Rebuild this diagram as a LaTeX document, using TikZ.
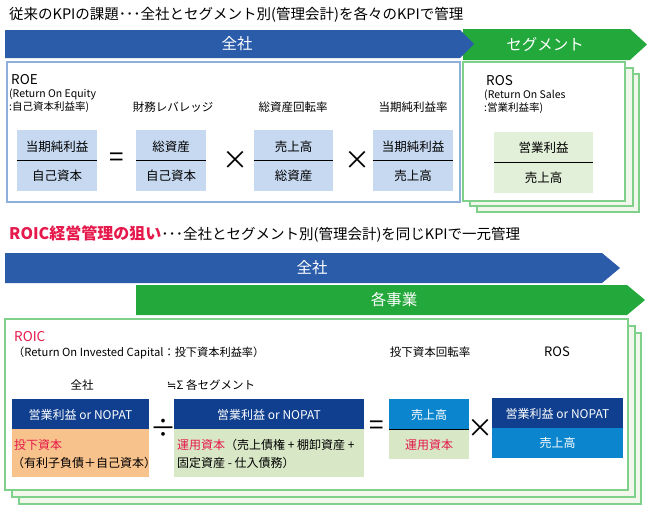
\documentclass[tikz,border=0pt]{standalone}
\usepackage{fontspec}
\setmainfont{Noto Sans CJK JP}
\newfontfamily\symfont{DejaVu Sans}
\definecolor{barblue}{HTML}{2A5CAA}
\definecolor{bargreen}{HTML}{23A93B}
\definecolor{edgeblue}{HTML}{8DAFDA}
\definecolor{edgegreen}{HTML}{7ED08A}
\definecolor{backgreen}{HTML}{F1F7EA}
\definecolor{fracblue}{HTML}{C6D9F0}
\definecolor{fracgreen}{HTML}{E2EFD9}
\definecolor{navy}{HTML}{0F3F8E}
\definecolor{midblue}{HTML}{0A85CE}
\definecolor{capgreen}{HTML}{D8E7C6}
\definecolor{caporange}{HTML}{F8C28C}
\definecolor{roicred}{HTML}{E5194B}

\begin{document}
\begin{tikzpicture}[x=1pt,y=-1pt,
    title/.style={anchor=west,font=\fontsize{14.5}{16}\selectfont},
    bartext/.style={text=white,font=\fontsize{15.5}{17}\selectfont},
    kpi/.style={anchor=west,font=\fontsize{13.5}{15}\selectfont},
    small/.style={anchor=west,font=\fontsize{10.5}{12}\selectfont},
    label/.style={font=\fontsize{11.5}{13}\selectfont},
    frac/.style={font=\fontsize{12.5}{14}\selectfont},
    boxtext/.style={font=\fontsize{12}{14}\selectfont},
    sign/.style={font=\fontsize{26}{28}\selectfont},
    stack/.style={draw=edgegreen,fill=backgreen,line width=1.2pt}]
    \tikzstyle{every node}+=[inner sep=0pt]
    \useasboundingbox (0,0) rectangle (650,520);
    \node [title] (head1) at (9,15) {従来のKPIの課題･･･全社とセグメント別(管理会計)を各々のKPIで管理};
    \fill [bargreen] (463,29) -- (630,29) -- (647,44.5) -- (630,60) -- (463,60) -- cycle;
    \fill [barblue] (5,30) -- (460,30) -- (474,44) -- (460,58) -- (5,58) -- cycle;
    \node [bartext] (all1) at (237,44) {全社};
    \node [bartext] (seg1) at (545,44.5) {セグメント};
    \draw [edgeblue,line width=1.2pt] (7,62) rectangle (460,202);
    \draw [stack] (477,74) rectangle (639,212);
    \draw [stack] (470,68) rectangle (633,206);
    \draw [stack,fill=white] (463,62) rectangle (625,201);
    \node [kpi] (roe) at (11,80) {ROE};
    \node [small] (roe1) at (9,94) {(Return On Equity};
    \node [small] (roe2) at (9,107) {:自己資本利益率)};
    \node [label] (lev) at (173,107) {財務レバレッジ};
    \node [label] (turn) at (293,107) {総資産回転率};
    \node [label] (margin) at (413,107) {当期純利益率};
    \node [fill=fracblue,minimum width=80pt,minimum height=61pt] (f1) at (57,160.5) {};
    \node [fill=fracblue,minimum width=70pt,minimum height=61pt] (f2) at (171,160.5) {};
    \node [fill=fracblue,minimum width=79pt,minimum height=61pt] (f3) at (293.5,160.5) {};
    \node [fill=fracblue,minimum width=80pt,minimum height=61pt] (f4) at (413,160.5) {};
    \draw (f1.west) -- (f1.east);
    \draw (f2.west) -- (f2.east);
    \draw (f3.west) -- (f3.east);
    \draw (f4.west) -- (f4.east);
    \node [frac] (f1t) at (57,147) {当期純利益};
    \node [frac] (f1b) at (57,176) {自己資本};
    \node [frac] (f2t) at (171,147) {総資産};
    \node [frac] (f2b) at (171,176) {自己資本};
    \node [frac] (f3t) at (293.5,147) {売上高};
    \node [frac] (f3b) at (293.5,176) {総資産};
    \node [frac] (f4t) at (413,147) {当期純利益};
    \node [frac] (f4b) at (413,176) {売上高};
    \node [sign] (eq1) at (117,160) {=};
    \node [sign] (times1) at (235,160) {×};
    \node [sign] (times2) at (357,160) {×};
    \node [kpi] (ros) at (486,81) {ROS};
    \node [small] (ros1) at (484,95) {(Return On Sales};
    \node [small] (ros2) at (484,108) {:営業利益率)};
    \node [fill=fracgreen,minimum width=99pt,minimum height=61pt] (f5) at (543.5,162.5) {};
    \draw (f5.west) -- (f5.east);
    \node [frac] (f5t) at (543.5,148) {営業利益};
    \node [frac] (f5b) at (543.5,178) {売上高};
    \node [title] (head2) at (9,234) {\textcolor{roicred}{\bfseries\fontsize{16}{18}\selectfont ROIC経営管理の狙い}･･･全社とセグメント別(管理会計)を同じKPIで一元管理};
    \fill [bargreen] (136,285) -- (627,285) -- (645,300) -- (627,315) -- (136,315) -- cycle;
    \fill [barblue] (5,253) -- (602,253) -- (620,268) -- (602,283) -- (5,283) -- cycle;
    \node [bartext] (all2) at (312,268) {全社};
    \node [bartext] (seg2) at (394,300) {各事業};
    \draw [stack] (19,333) rectangle (641,504);
    \draw [stack] (12,326) rectangle (635,497);
    \draw [stack,fill=white] (5,319) rectangle (628,490);
    \node [kpi,text=roicred] (roic) at (14,337) {ROIC};
    \node [anchor=west,font=\fontsize{11.2}{13}\selectfont] (roic1) at (13,353) {（Return On Invested Capital：投下資本利益率）};
    \node [label] (all3) at (82,385) {全社};
    \node [label] (sum) at (211,385) {{\symfont ≒}Σ 各セグメント};
    \node [label] (roicturn) at (430,352) {投下資本回転率};
    \node [font=\fontsize{13}{15}\selectfont] (ros3) at (557,352) {ROS};
    \fill [navy] (12,399) rectangle (149,429);
    \fill [caporange] (12,429) rectangle (149,477);
    \fill [navy] (174,399) rectangle (364,429);
    \fill [capgreen] (174,429) rectangle (364,477);
    \fill [midblue] (389,399) rectangle (469,429);
    \fill [capgreen] (389,429) rectangle (469,459);
    \draw (389,429) -- (469,429);
    \fill [navy] (492,398) rectangle (623,428);
    \fill [midblue] (492,428) rectangle (623,458);
    \node [boxtext,text=white] (op1) at (80.5,415) {営業利益 or NOPAT};
    \node [boxtext,anchor=west,text=roicred] (ic1) at (14,445) {投下資本};
    \node [boxtext,anchor=west] (ic2) at (12,463) {（有利子負債＋自己資本）};
    \node [boxtext,text=white] (op2) at (269,415) {営業利益 or NOPAT};
    \node [boxtext,anchor=west] (wc1) at (177,445) {\textcolor{roicred}{運用資本}（売上債権 + 棚卸資産 +};
    \node [boxtext,anchor=west] (wc2) at (177,463) {固定資産 - 仕入債務）};
    \node [boxtext,text=white] (sales1) at (429,415) {売上高};
    \node [boxtext,text=roicred] (wc3) at (429,445) {運用資本};
    \node [boxtext,text=white] (op3) at (557.5,414) {営業利益 or NOPAT};
    \node [boxtext,text=white] (sales2) at (557.5,443) {売上高};
    \node [sign] (div) at (163,428) {÷};
    \node [sign] (eq2) at (377,428) {=};
    \node [sign] (times3) at (480,428) {×};
\end{tikzpicture}
\end{document}
